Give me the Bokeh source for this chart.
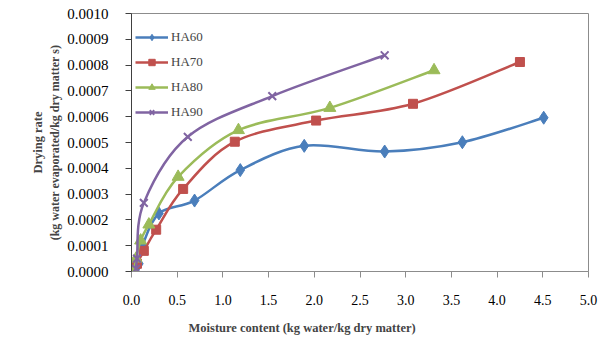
import numpy as np
from bokeh.plotting import figure
from bokeh.models import (Range1d, SingleIntervalTicker, PrintfTickFormatter,
                          Legend, LegendItem, Title, ColumnDataSource)
from bokeh.embed import file_html
from bokeh.resources import INLINE

# ---- data ----
ha60_x = [0.04, 0.08, 0.12, 0.30, 0.69, 1.19, 1.89, 2.77, 3.62, 4.51]
ha60_y = [0.0, 0.00003, 0.00010, 0.000225, 0.000275, 0.000393, 0.000487, 0.000465, 0.000501, 0.000596]
ha70_x = [0.02, 0.06, 0.135, 0.27, 0.565, 1.13, 2.02, 3.08, 4.25]
ha70_y = [0.0, 0.00003, 0.00008, 0.000162, 0.00032, 0.000503, 0.000585, 0.00065, 0.000812]
ha80_x = [0.03, 0.05, 0.10, 0.19, 0.51, 1.17, 2.17, 3.31]
ha80_y = [0.0, 0.00005, 0.00012, 0.000182, 0.000367, 0.000548, 0.000634, 0.00078]
ha90_x = [0.05, 0.06, 0.135, 0.616, 1.54, 2.77]
ha90_y = [0.00001, 0.00005, 0.000266, 0.000522, 0.00068, 0.000838]

series_names = ["HA60", "HA70", "HA80", "HA90"]
x_ticks_step = 0.5
y_ticks_step = 0.0001

FONT = "Liberation Serif"
colors = ["#4A7EBB", "#C0504D", "#9BBB59", "#8064A2"]
markers = ["diamond", "square", "triangle", "x"]
msizes = [13, 9, 12, 11]

p = figure(width=600, height=345, output_backend="svg", toolbar_location=None,
           x_range=Range1d(0, 5), y_range=Range1d(0, 0.001),
           min_border_left=131, min_border_right=12, min_border_top=13, min_border_bottom=73)
p.grid.visible = False
p.outline_line_color = "#8c8c8c"
p.outline_line_width = 1
p.background_fill_color = "white"
p.border_fill_color = "white"

for ax in (p.xaxis[0], p.yaxis[0]):
    ax.axis_line_color = "#404040"
    ax.major_tick_line_color = "#404040"
    ax.minor_tick_line_color = None
    ax.major_tick_in = 0
    ax.major_label_text_font = FONT
    ax.major_label_text_color = "black"

p.xaxis[0].ticker = SingleIntervalTicker(interval=x_ticks_step)
p.xaxis[0].formatter = PrintfTickFormatter(format="%.1f")
p.xaxis[0].major_label_text_font_size = "14px"
p.xaxis[0].major_tick_out = 6
p.xaxis[0].major_label_standoff = 17
p.xaxis[0].axis_line_color = "#8c8c8c"
p.xaxis[0].major_tick_line_color = "#8c8c8c"

p.yaxis[0].ticker = SingleIntervalTicker(interval=y_ticks_step)
p.yaxis[0].formatter = PrintfTickFormatter(format="%.4f")
p.yaxis[0].major_label_text_font_size = "15px"
p.yaxis[0].major_tick_out = 6
p.yaxis[0].major_label_standoff = 17
p.yaxis[0].axis_label = "(kg water evaporated/kg dry matter s)"
p.yaxis[0].axis_label_text_font = FONT
p.yaxis[0].axis_label_text_font_style = "bold"
p.yaxis[0].axis_label_text_font_size = "12px"
p.yaxis[0].axis_label_standoff = 2

p.add_layout(Title(text="Drying rate", align="center", text_font=FONT,
                   text_font_size="12.5px", text_font_style="bold", standoff=2), "left")
p.add_layout(Title(text="Moisture content (kg water/kg dry matter)", align="left", offset=57,
                   text_font=FONT, text_font_size="12.5px", text_font_style="bold",
                   standoff=22), "below")


def bezier_parts(xs, ys):
    P = np.column_stack([xs, ys]).astype(float)
    n = len(P)
    x0, y0, x1, y1, cx0, cy0, cx1, cy1 = ([] for _ in range(8))
    for i in range(n - 1):
        pm = P[i - 1] if i > 0 else P[i]
        pn = P[i + 2] if i + 2 < n else P[i + 1]
        c1 = P[i] + (P[i + 1] - pm) / 6.0
        c2 = P[i + 1] - (pn - P[i]) / 6.0
        x0.append(P[i, 0]); y0.append(P[i, 1])
        x1.append(P[i + 1, 0]); y1.append(P[i + 1, 1])
        cx0.append(c1[0]); cy0.append(c1[1])
        cx1.append(c2[0]); cy1.append(c2[1])
    return dict(x0=x0, y0=y0, x1=x1, y1=y1, cx0=cx0, cy0=cy0, cx1=cx1, cy1=cy1)


items = []
all_series = [(ha60_x, ha60_y), (ha70_x, ha70_y), (ha80_x, ha80_y), (ha90_x, ha90_y)]
for name, (xs, ys), c, m, s in zip(series_names, all_series, colors, markers, msizes):
    src = ColumnDataSource(bezier_parts(xs, ys))
    br = p.bezier(x0="x0", y0="y0", x1="x1", y1="y1", cx0="cx0", cy0="cy0",
                  cx1="cx1", cy1="cy1", source=src, line_color=c, line_width=2.5)
    if m == "x":
        sr = p.scatter(xs, ys, marker=m, size=s, line_color=c, line_width=2)
    else:
        sr = p.scatter(xs, ys, marker=m, size=s, fill_color=c, line_color=c, line_width=1)
    items.append(LegendItem(label=name, renderers=[br, sr]))

legend = Legend(items=items, location=(2, 149), margin=0, padding=2,
                glyph_width=33, glyph_height=16, label_height=16, spacing=9,
                label_standoff=3, label_text_font=FONT, label_text_font_size="13px",
                background_fill_alpha=0, border_line_alpha=0)
p.add_layout(legend)

open("out.html", "w").write(file_html(p, INLINE))
